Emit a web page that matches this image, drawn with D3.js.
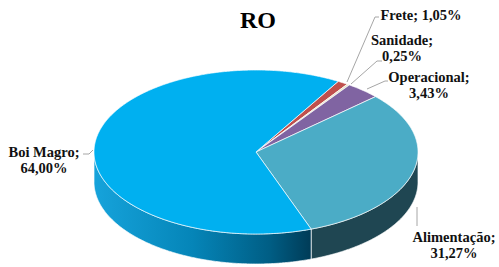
<!DOCTYPE html>
<html><head><meta charset="utf-8">
<script src="https://cdn.jsdelivr.net/npm/d3@7"></script>
<style>html,body{margin:0;padding:0;background:#fff;}svg{display:block;}</style>
</head><body>
<script>
// Data (clockwise from the top-right)
const categories = ["Frete", "Sanidade", "Operacional", "Alimentação", "Boi Magro"];
const values = [1.05, 0.25, 3.43, 31.27, 64.00];
const labelTexts = [["Frete; 1,05%"], ["Sanidade;", "0,25%"], ["Operacional;", "3,43%"], ["Alimentação;", "31,27%"], ["Boi Magro;", "64,00%"]];
const title = "RO";

const W = 499, H = 267;
const topColors = ["#C0504D", "#E8E3C4", "#8064A2", "#4BACC6", "#00B0F0"];
const sideColors = ["#7E2F2D", "#9A9474", "#4E3B66", "#1F4652", "url(#boiGrad)"];

const cx = 256, cy = 152, rx = 162, ry = 82, depth = 30;
const startDeg = 30.5;

const svg = d3.select("body").append("svg").attr("width", W).attr("height", H);
const defs = svg.append("defs");
const g1 = defs.append("linearGradient").attr("id", "boiGrad")
  .attr("gradientUnits", "userSpaceOnUse").attr("x1", cx - rx).attr("x2", 313).attr("y1", 0).attr("y2", 0);
g1.append("stop").attr("offset", 0).attr("stop-color", "#16A3DB");
g1.append("stop").attr("offset", 0.45).attr("stop-color", "#0585B8");
g1.append("stop").attr("offset", 0.8).attr("stop-color", "#005E85");
g1.append("stop").attr("offset", 1).attr("stop-color", "#003A55");

const pie = d3.pie().sort(null)
  .startAngle(startDeg * Math.PI / 180)
  .endAngle(startDeg * Math.PI / 180 + 2 * Math.PI);
const arcs = pie(values);

const pt = (a, dy = 0) => [cx + rx * Math.sin(a), cy - ry * Math.cos(a) + dy];
function arcPoints(a0, a1, dy = 0) {
  const n = Math.max(2, Math.ceil(Math.abs(a1 - a0) / 0.01));
  return d3.range(n + 1).map(i => pt(a0 + (a1 - a0) * i / n, dy));
}
const line = d3.line();

// Sides (front-facing part: angles between 90° and 270°)
const lo = Math.PI / 2, hi = 3 * Math.PI / 2;
arcs.forEach((d, i) => {
  let s = d.startAngle % (2 * Math.PI), e = s + (d.endAngle - d.startAngle);
  const segs = [[s, e], [s + 2 * Math.PI, e + 2 * Math.PI], [s - 2 * Math.PI, e - 2 * Math.PI]];
  segs.forEach(([a0, a1]) => {
    const b0 = Math.max(a0, lo), b1 = Math.min(a1, hi);
    if (b1 > b0) {
      const topEdge = arcPoints(b0, b1, 0);
      const botEdge = arcPoints(b1, b0, depth);
      svg.append("path").attr("d", line(topEdge.concat(botEdge)) + "Z")
        .attr("fill", sideColors[i]).attr("stroke", "#ffffff").attr("stroke-width", 0.8)
        .attr("stroke-opacity", 0.85);
    }
  });
});

// Tops
arcs.forEach((d, i) => {
  const pts = [[cx, cy]].concat(arcPoints(d.startAngle, d.endAngle, 0));
  svg.append("path").attr("d", line(pts) + "Z")
    .attr("fill", topColors[i]).attr("stroke", "#ffffff").attr("stroke-width", 0.8)
    .attr("stroke-opacity", 0.85).attr("stroke-linejoin", "round");
});

// Title
svg.append("text").attr("x", 258).attr("y", 28).attr("text-anchor", "middle")
  .attr("font-family", "Liberation Serif, serif").attr("font-weight", "bold")
  .attr("font-size", 24).attr("fill", "#000").text(title);

// Leader lines
const leaders = [
  [[347, 82], [375, 17], [379, 17]],
  [[351, 84], [377, 61], [382, 61]],
  [[367, 89], [385, 81], [388, 81]],
  [[417, 207], [417, 226]],
  [[93, 150], [89, 154], [83, 154]]
];
leaders.forEach(p => svg.append("path").attr("d", line(p)).attr("fill", "none")
  .attr("stroke", "#A6A6A6").attr("stroke-width", 1));

// Labels
const labelPos = [[421, 20, "middle"], [402, 45, "middle"], [429, 82, "middle"], [454, 242, "middle"], [44, 157, "middle"]];
labelTexts.forEach((lines, i) => {
  const [x, y, anchor] = labelPos[i];
  const t = svg.append("text").attr("x", x).attr("y", y).attr("text-anchor", anchor)
    .attr("font-family", "Liberation Serif, serif").attr("font-weight", "bold")
    .attr("font-size", 14.5).attr("fill", "#111");
  lines.forEach((l, j) => t.append("tspan").attr("x", x).attr("dy", j === 0 ? 0 : 15.5).text(l));
});
</script>
</body></html>
